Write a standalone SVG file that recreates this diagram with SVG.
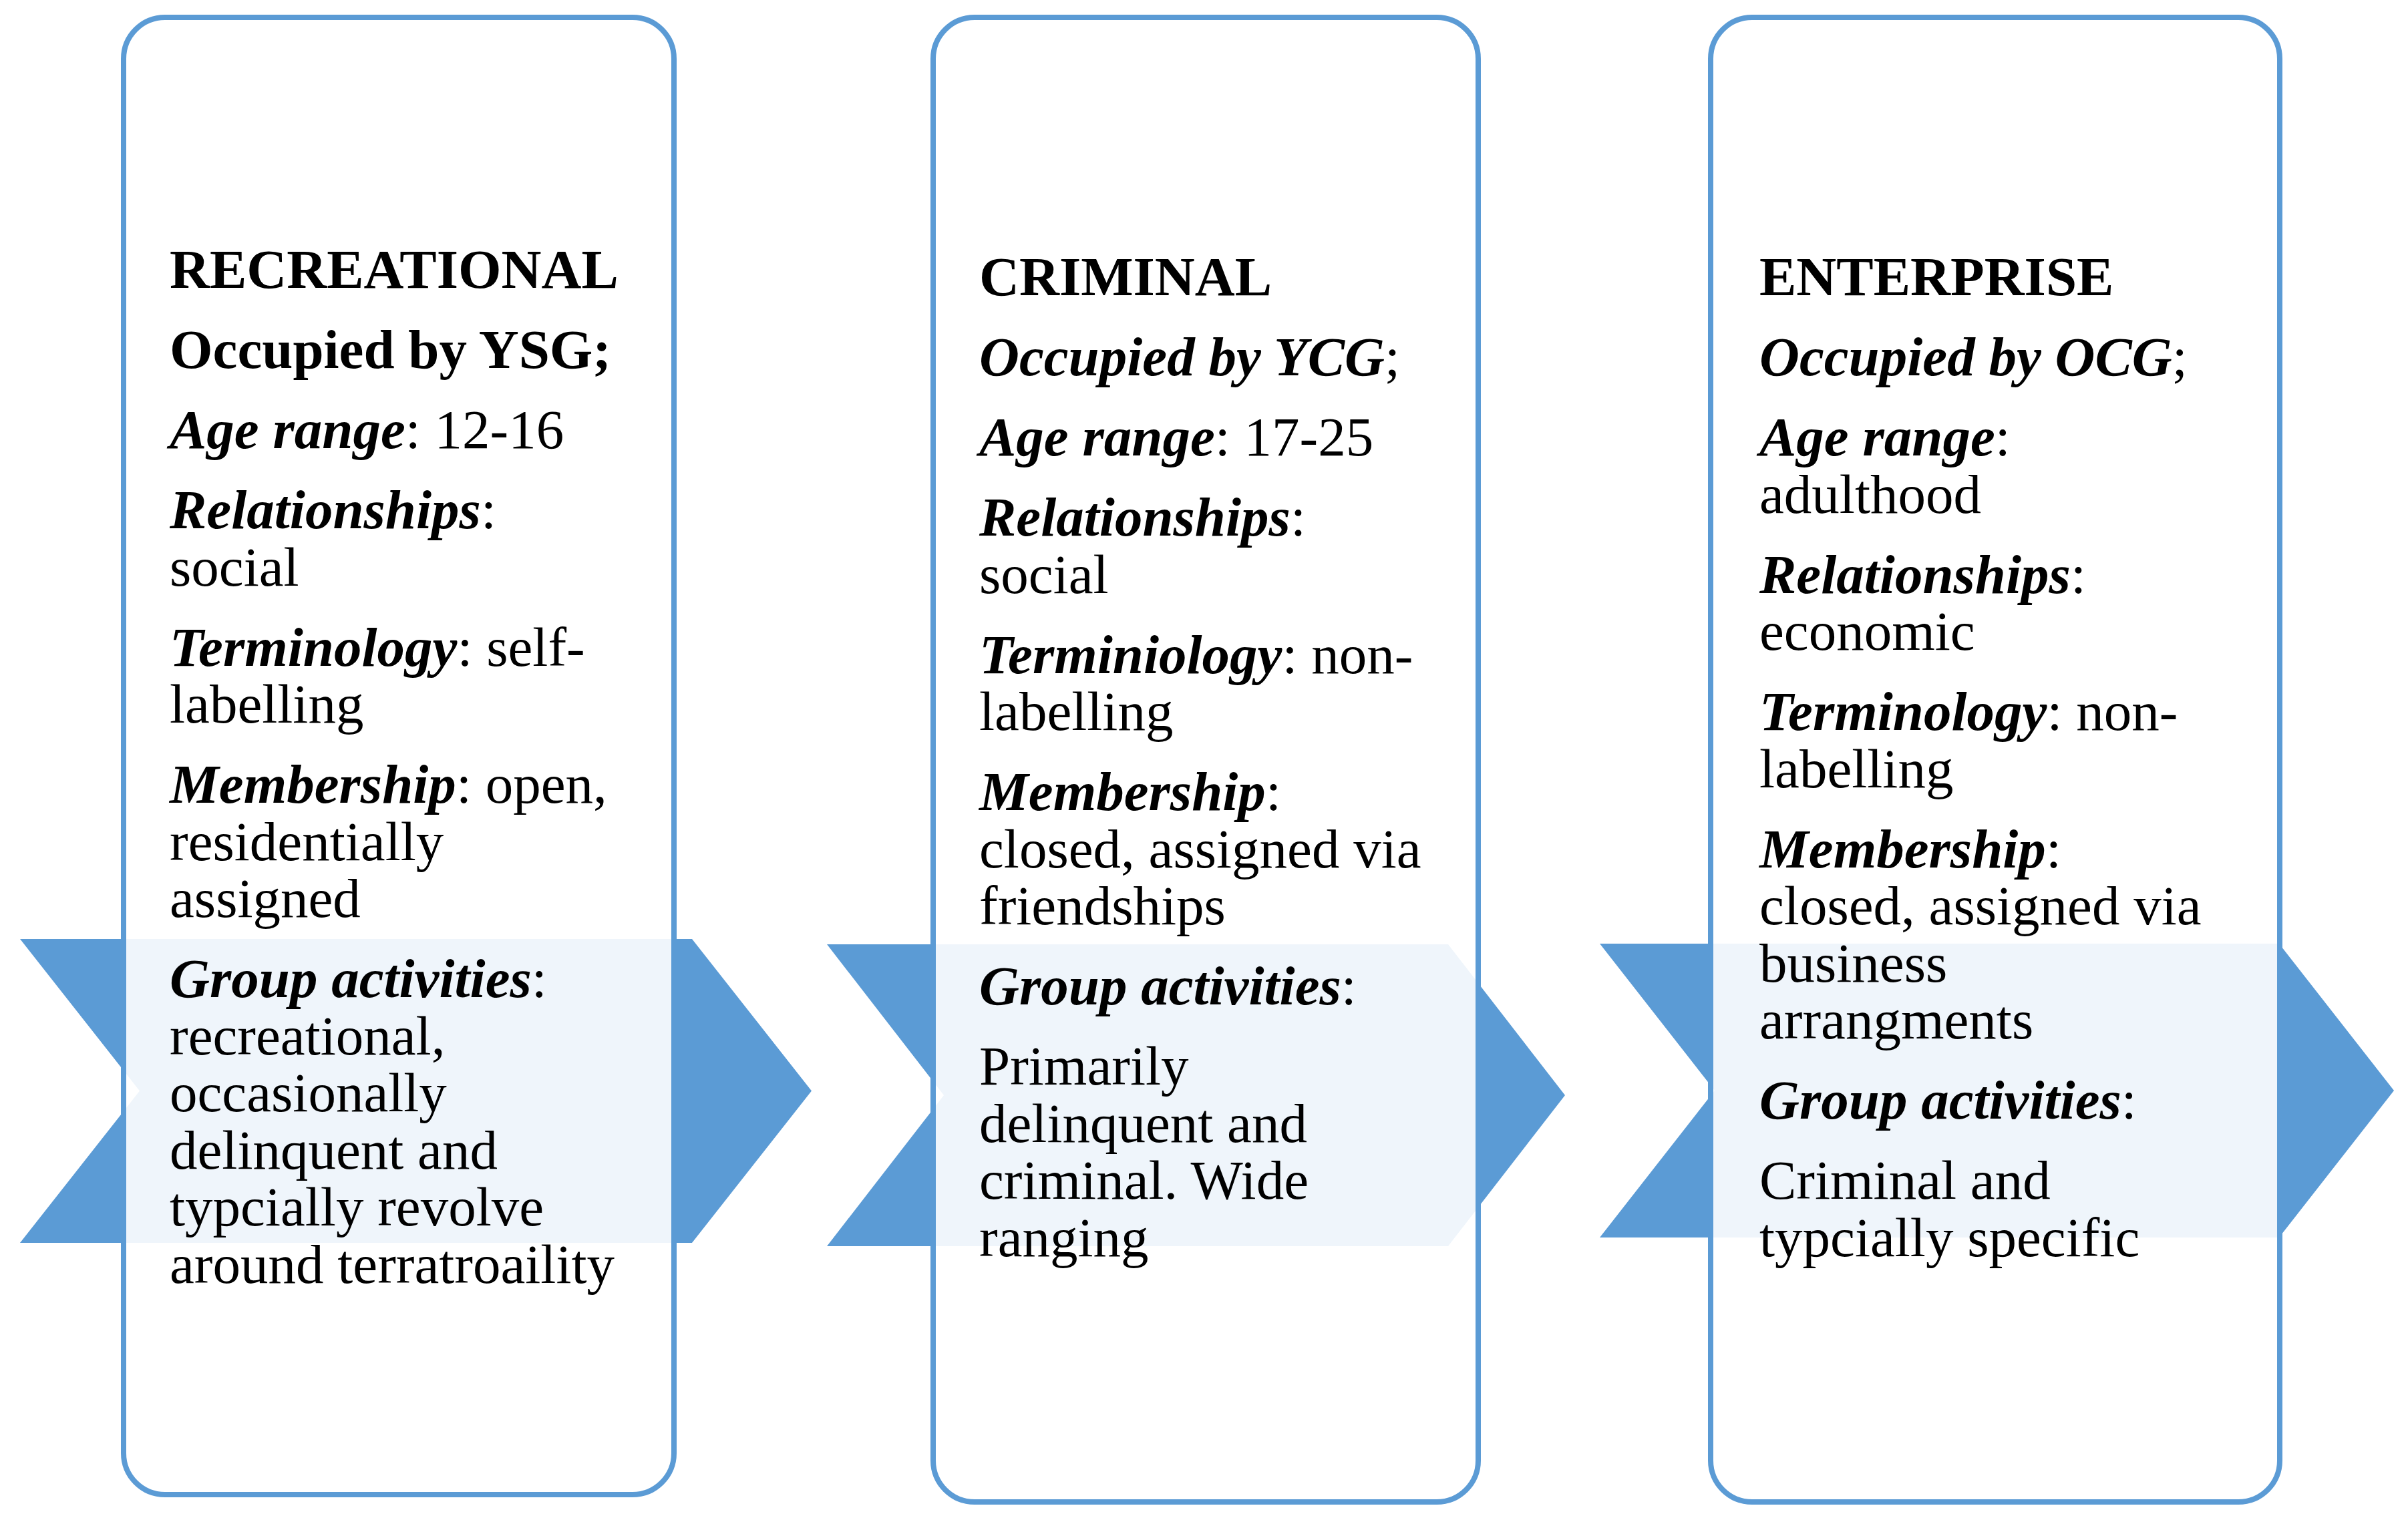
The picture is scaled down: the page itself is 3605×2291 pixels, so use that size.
<svg xmlns="http://www.w3.org/2000/svg" width="3605" height="2291" viewBox="0 0 3605 2291">
<style>
  .chev { fill: #5B9BD5; stroke: none; }
  .box { fill: #FFFFFF; fill-opacity: 0.9; stroke: #5B9BD5; stroke-width: 8; }
  text { font-family: "Liberation Serif", "Times New Roman", serif; font-size: 83px; fill: #000000; }
  .b { font-weight: bold; }
  .bi { font-weight: bold; font-style: italic; }
</style>
<rect x="0" y="0" width="3605" height="2291" fill="#FFFFFF"/>
<g id="connectors">
  <polygon class="chev" points="30,1406 1036,1406 1215,1633.5 1036,1861 30,1861 209,1633.5"/>
  <polygon class="chev" points="1238,1414 2168,1414 2343,1640 2168,1866 1238,1866 1413,1640"/>
  <polygon class="chev" points="2395,1413 3412,1413 3584,1633 3412,1853 2395,1853 2567,1633"/>
</g>
<g id="node-recreational">
  <rect class="box" x="185" y="26" width="824" height="2212" rx="62" ry="62"/>
  <text x="254" y="431" class="b">RECREATIONAL</text>
  <text x="254" y="551" class="b">Occupied by YSG;</text>
  <text x="254" y="671"><tspan class="bi">Age range</tspan>: 12-16</text>
  <text x="254" y="791"><tspan class="bi">Relationships</tspan>:</text>
  <text x="254" y="876.5">social</text>
  <text x="254" y="996.5"><tspan class="bi">Terminology</tspan>: self-</text>
  <text x="254" y="1082">labelling</text>
  <text x="254" y="1202"><tspan class="bi">Membership</tspan>: open,</text>
  <text x="254" y="1287.5">residentially</text>
  <text x="254" y="1373">assigned</text>
  <text x="254" y="1493"><tspan class="bi">Group activities</tspan>:</text>
  <text x="254" y="1578.5">recreational,</text>
  <text x="254" y="1664">occasionally</text>
  <text x="254" y="1749.5">delinquent and</text>
  <text x="254" y="1835">typcially revolve</text>
  <text x="254" y="1920.5">around terratroaility</text>
</g>
<g id="node-criminal">
  <rect class="box" x="1397" y="26" width="816" height="2223" rx="62" ry="62"/>
  <text x="1466" y="442" class="b">CRIMINAL</text>
  <text x="1466" y="562"><tspan class="bi">Occupied by YCG</tspan>;</text>
  <text x="1466" y="682"><tspan class="bi">Age range</tspan>: 17-25</text>
  <text x="1466" y="802"><tspan class="bi">Relationships</tspan>:</text>
  <text x="1466" y="887.5">social</text>
  <text x="1466" y="1007.5"><tspan class="bi">Terminiology</tspan>: non-</text>
  <text x="1466" y="1093">labelling</text>
  <text x="1466" y="1213"><tspan class="bi">Membership</tspan>:</text>
  <text x="1466" y="1298.5">closed, assigned via</text>
  <text x="1466" y="1384">friendships</text>
  <text x="1466" y="1504"><tspan class="bi">Group activities</tspan>:</text>
  <text x="1466" y="1624">Primarily</text>
  <text x="1466" y="1709.5">delinquent and</text>
  <text x="1466" y="1795">criminal. Wide</text>
  <text x="1466" y="1880.5">ranging</text>
</g>
<g id="node-enterprise">
  <rect class="box" x="2561" y="26" width="852" height="2223" rx="62" ry="62"/>
  <text x="2634" y="442" class="b">ENTERPRISE</text>
  <text x="2634" y="562"><tspan class="bi">Occupied by OCG</tspan>;</text>
  <text x="2634" y="682"><tspan class="bi">Age range</tspan>:</text>
  <text x="2634" y="767.5">adulthood</text>
  <text x="2634" y="887.5"><tspan class="bi">Relationships</tspan>:</text>
  <text x="2634" y="973">economic</text>
  <text x="2634" y="1093"><tspan class="bi">Terminology</tspan>: non-</text>
  <text x="2634" y="1178.5">labelling</text>
  <text x="2634" y="1298.5"><tspan class="bi">Membership</tspan>:</text>
  <text x="2634" y="1384">closed, assigned via</text>
  <text x="2634" y="1469.5">business</text>
  <text x="2634" y="1555">arrangments</text>
  <text x="2634" y="1675"><tspan class="bi">Group activities</tspan>:</text>
  <text x="2634" y="1795">Criminal and</text>
  <text x="2634" y="1880.5">typcially specific</text>
</g>
</svg>
